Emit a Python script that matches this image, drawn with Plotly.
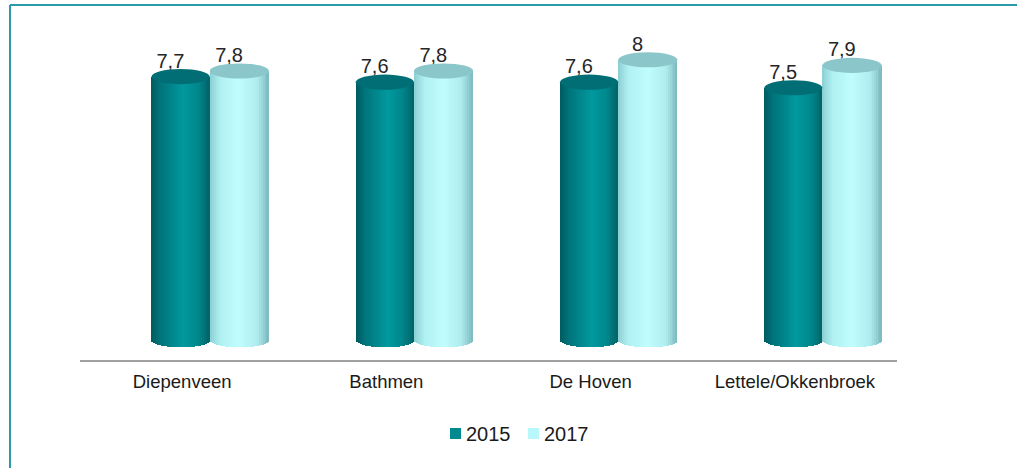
import plotly.graph_objects as go
import numpy as np

categories = ["Diepenveen", "Bathmen", "De Hoven", "Lettele/Okkenbroek"]
series_names = ["2015", "2017"]
values_2015 = [7.7, 7.6, 7.6, 7.5]
values_2017 = [7.8, 7.8, 8.0, 7.9]

BASE = 3.0          # axis minimum
Y_RANGE = [2.64, 8.71]

# style: per series bar offset/width (category units) and gradient profiles
offsets = [-0.15, 0.135]
widths = [0.285, 0.29]
profiles = [
    [(0.0, "#005a5f"), (0.15, "#00747a"), (0.55, "#00999e"), (0.8, "#00878c"), (1.0, "#006368")],
    [(0.0, "#8ccfd3"), (0.18, "#b0f1f3"), (0.5, "#c0fdfe"), (0.8, "#aeecef"), (1.0, "#7cb9bd")],
]
top_colors = ["#006e74", "#8bc6ca"]
legend_colors = ["#008a90", "#b8f8fa"]
ELL = 0.135  # half-height of cylinder ellipses in data units
N = 30
FONT = "Liberation Sans, Arial, sans-serif"


def hex2rgb(h):
    h = h.lstrip("#")
    return np.array([int(h[i:i + 2], 16) for i in (0, 2, 4)], dtype=float)


def color_at(profile, u):
    for (u0, c0), (u1, c1) in zip(profile[:-1], profile[1:]):
        if u0 <= u <= u1:
            t = (u - u0) / (u1 - u0) if u1 > u0 else 0
            c = hex2rgb(c0) * (1 - t) + hex2rgb(c1) * t
            return "rgb(%d,%d,%d)" % tuple(np.round(c))
    return profile[-1][1]


fig = go.Figure()
xs = list(range(len(categories)))
all_values = [values_2015, values_2017]
shapes = []
annotations = []

for s, vals in enumerate(all_values):
    off, w = offsets[s], widths[s]
    sw = w / N
    for k in range(N):
        uc = (k + 0.5) / N
        curve = ELL * np.sqrt(max(0.0, 1 - (2 * uc - 1) ** 2))
        base = [BASE - curve] * len(vals)
        fig.add_trace(go.Bar(
            x=xs, y=[v - b for v, b in zip(vals, base)], base=base,
            offset=off + k * sw, width=sw * 1.6 if k < N - 1 else sw,
            marker=dict(color=color_at(profiles[s], uc), line=dict(width=0)),
            showlegend=False, hoverinfo="skip",
        ))
    for i, v in enumerate(vals):
        shapes.append(dict(
            type="circle", xref="x", yref="y",
            x0=i + off, x1=i + off + w, y0=v - ELL, y1=v + ELL,
            fillcolor=top_colors[s], line=dict(width=0), layer="above",
        ))
    fig.add_trace(go.Scatter(
        x=[i + off + w / 2 - 0.05 for i in xs], y=[v + 0.25 for v in vals],
        mode="text", text=[("%g" % v).replace(".", ",") for v in vals],
        textfont=dict(family=FONT, size=20, color="#262626"),
        showlegend=False, hoverinfo="skip",
    ))

# legend drawn as squares + labels below the axis
leg_x = [450, 528]   # pixel positions of legend squares
for s, name in enumerate(series_names):
    x0 = (leg_x[s] - 80) / 817
    x1 = (leg_x[s] + 11 - 80) / 817
    shapes.append(dict(type="rect", xref="paper", yref="paper",
                       x0=x0, x1=x1, y0=(360 - 439) / 340, y1=(360 - 428) / 340,
                       fillcolor=legend_colors[s], line=dict(width=0)))
    annotations.append(dict(xref="paper", yref="paper", x=(leg_x[s] + 14 - 80) / 817,
                            y=(360 - 434) / 340, xanchor="left", yanchor="middle",
                            text=name, showarrow=False,
                            font=dict(family=FONT, size=20, color="#1a1a1a")))

# chart border (teal frame on top and left)
shapes.append(dict(type="line", xref="paper", yref="paper", x0=-0.0857, x1=1.2,
                   y0=1.044, y1=1.044, line=dict(color="#2a9aa8", width=2)))
shapes.append(dict(type="line", xref="paper", yref="paper", x0=-0.0857, x1=-0.0857,
                   y0=1.044, y1=-0.35, line=dict(color="#2a9aa8", width=2)))

fig.update_layout(
    width=1017, height=468,
    margin=dict(l=80, r=120, t=20, b=108),
    paper_bgcolor="white", plot_bgcolor="white",
    barmode="overlay", bargap=0,
    shapes=shapes, annotations=annotations,
    showlegend=False,
    xaxis=dict(range=[-0.5, 3.5], tickvals=xs, ticktext=categories,
               showgrid=False, zeroline=False, showline=True, linecolor="#a0a0a0",
               linewidth=2, ticks="", ticklabelstandoff=4,
               tickfont=dict(family=FONT, size=18.5, color="#1a1a1a")),
    yaxis=dict(range=Y_RANGE, visible=False, showgrid=False, zeroline=False),
)

fig.write_html("out.html", config={"displayModeBar": False},
               post_script="document.body.style.margin='0';")
